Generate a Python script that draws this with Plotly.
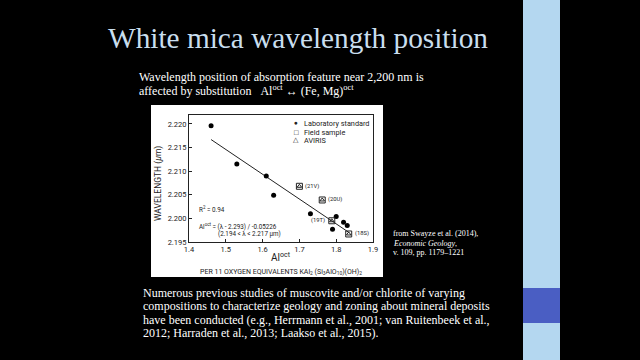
import plotly.graph_objects as go

# ---- data ----
lab_x = [1.46, 1.53, 1.61, 1.63, 1.73, 1.80, 1.79, 1.82, 1.83]
lab_y = [2.2196, 2.2115, 2.2090, 2.2049, 2.2010, 2.2004, 2.1977, 2.1992, 2.1985]
field_x = [1.700, 1.762, 1.788, 1.834]
field_y = [2.2068, 2.2039, 2.1995, 2.1967]
field_labels = ["(21V)", "(20U)", "(19T)", "(18S)"]
fit_x = [1.46, 1.835]
fit_y = [2.2167, 2.1970]
x_ticks = [1.4, 1.5, 1.6, 1.7, 1.8, 1.9]
y_ticks = [2.195, 2.200, 2.205, 2.210, 2.215, 2.220]

# plot-area geometry in pixels (for converting slide positions to paper coords)
L, R, T, B = 189, 373, 115, 242
W, H = R - L, B - T
def px(x):
    return (x - L) / W
def py(y):
    return (B - y) / H

CF = "Roboto, Arial, sans-serif"
SF = "Liberation Serif, Times New Roman, serif"
INK = "#222222"

fig = go.Figure()
fig.add_trace(go.Scatter(x=fit_x, y=fit_y, mode="lines",
                         line=dict(color=INK, width=1), showlegend=False))
fig.add_trace(go.Scatter(x=lab_x, y=lab_y, mode="markers",
                         marker=dict(symbol="circle", size=5, color="black"),
                         showlegend=False))
fig.add_trace(go.Scatter(x=field_x, y=field_y, mode="markers",
                         marker=dict(symbol="square-open", size=6, color=INK,
                                     line=dict(width=1)),
                         showlegend=False))
fig.add_trace(go.Scatter(x=field_x, y=field_y, mode="markers",
                         marker=dict(symbol="triangle-up-open", size=4, color=INK,
                                     line=dict(width=1)),
                         showlegend=False))

ann = []
# field sample labels
shifts = [(4, "left"), (4, "left"), (-5, "right"), (4, "left")]
for xv, yv, t, (sh, anc) in zip(field_x, field_y, field_labels, shifts):
    ann.append(dict(x=xv, y=yv, xref="x", yref="y", text=t, showarrow=False,
                    xanchor=anc, xshift=sh, font=dict(family=CF, size=5.8, color=INK)))

def pann(x, y, text, size, color=INK, family=CF, xanchor="left", **kw):
    ann.append(dict(x=px(x), y=py(y), xref="paper", yref="paper", text=text,
                    showarrow=False, xanchor=xanchor, yanchor="middle",
                    font=dict(family=family, size=size, color=color), **kw))

# legend (manual)
pann(296, 123, "●", 6.5, xanchor="center")
pann(296, 132, "□", 7.5, xanchor="center")
pann(296, 140, "△", 6.5, xanchor="center")
pann(302, 123, "Laboratory standard", 7.3)
pann(302, 132, "Field sample", 7.3)
pann(302, 140, "AVIRIS", 7.3)

# in-chart text
pann(197, 209, "R<sup>2</sup> = 0.94", 6.3)
pann(197, 226, "Al<sup>oct</sup> = (λ - 2.293) / -0.05226", 6.3)
pann(216, 234, "(2.194 < λ < 2.217 µm)", 6.3)

# axis titles
pann(158, 184, "WAVELENGTH (<i>µ</i>m)", 8.5, xanchor="center", textangle=-90)
pann(281, 257, "Al<sup>oct</sup>", 10, xanchor="center")
pann(281, 272, "PER 11 OXYGEN EQUIVALENTS KAl<sub>2</sub> (Si<sub>3</sub>AlO<sub>10</sub>)(OH)<sub>2</sub>",
     7, xanchor="center")

# slide text
pann(298, 38, "White mica wavelength position", 29.3, color="#c9deee", family=SF, xanchor="center")
pann(137, 77, "Wavelength position of absorption feature near 2,200 nm is", 12, color="white", family=SF)
pann(137, 91, "affected by substitution\u00a0\u00a0\u00a0Al<sup>oct</sup> ↔ (Fe, Mg)<sup>oct</sup>",
     12, color="white", family=SF)
pann(391, 233, "from Swayze et al. (2014),", 8, color="white", family=SF)
pann(391, 243, "<i>Economic Geology</i>,", 8, color="white", family=SF)
pann(391, 252, "v. 109, pp. 1179–1221", 8, color="white", family=SF)
para = [
    "Numerous previous studies of muscovite and/or chlorite of varying",
    "compositions to characterize geology and zoning about mineral deposits",
    "have been conducted (e.g., Herrmann et al., 2001; van Ruitenbeek et al.,",
    "2012; Harraden et al., 2013; Laakso et al., 2015).",
]
for i, line in enumerate(para):
    pann(141, 293 + i * 13.4, line, 12, color="white", family=SF)

shapes = [
    dict(type="rect", xref="paper", yref="paper", x0=px(151), x1=px(383),
         y0=py(277), y1=py(105), fillcolor="white", line=dict(width=0), layer="below"),
    dict(type="rect", xref="paper", yref="paper", x0=px(523), x1=px(560),
         y0=py(360), y1=py(0), fillcolor="#b4d7f0", line=dict(width=0), layer="below"),
    dict(type="rect", xref="paper", yref="paper", x0=px(523), x1=px(560),
         y0=py(323), y1=py(288), fillcolor="#4a5ec3", line=dict(width=0), layer="below"),
]

fig.update_layout(
    width=640, height=360,
    margin=dict(l=L, r=640 - R, t=T, b=360 - B, autoexpand=False),
    paper_bgcolor="black", plot_bgcolor="white",
    showlegend=False,
    annotations=ann, shapes=shapes,
    xaxis=dict(range=[1.4, 1.9], tickvals=x_ticks, ticktext=[f"{v:.1f}" for v in x_ticks],
               ticks="inside", ticklen=3, tickcolor=INK, showline=True, mirror=True,
               linecolor=INK, linewidth=1, showgrid=False, zeroline=False,
               tickfont=dict(family=CF, size=7.5, color=INK)),
    yaxis=dict(range=[2.195, 2.2219], tickvals=y_ticks, ticktext=[f"{v:.3f}" for v in y_ticks],
               ticks="inside", ticklen=3, tickcolor=INK, showline=True, mirror=True,
               linecolor=INK, linewidth=1, showgrid=False, zeroline=False,
               tickfont=dict(family=CF, size=7.5, color=INK)),
)

fig.write_html("out.html",
               config={"displayModeBar": False},
               post_script="document.body.style.margin='0';"
                           "document.body.style.background='black';")
